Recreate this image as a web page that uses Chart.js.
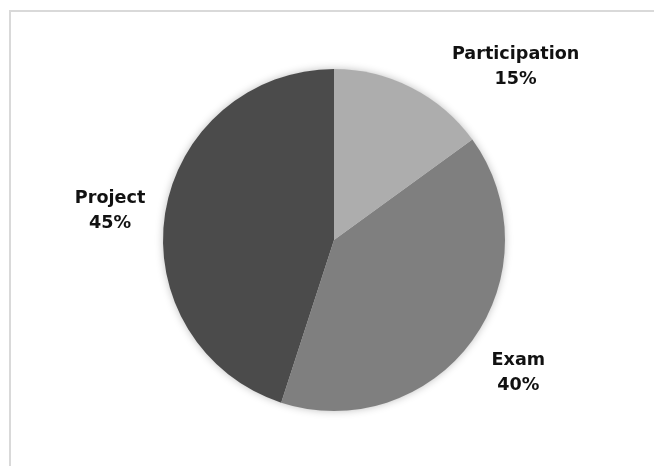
<!DOCTYPE html>
<html>
<head>
<meta charset="utf-8">
<script src="https://cdn.jsdelivr.net/npm/chart.js@4"></script>
<style>
  html, body { margin: 0; padding: 0; background: #fff; }
  #wrap { width: 654px; height: 466px; position: relative; }
</style>
</head>
<body>
<div id="wrap"><canvas id="pieChart"></canvas></div>
<script>
// --- DATA ---
const categories = ['Participation', 'Exam', 'Project'];
const shares = [15, 40, 45];
const sliceColors = ['#adadad', '#7f7f7f', '#4b4b4b'];

// label nudges from each slice's outer mid point (px)
const labelNudge = [[104, -21], [46, 32], [-55, -2]];

// --- PLUGINS ---
const frame = {
    id: 'frame',
    beforeDraw(chart) {
        const c = chart.ctx;
        c.save();
        c.fillStyle = '#fff';
        c.fillRect(0, 0, chart.width, chart.height);
        c.strokeStyle = '#d9d9d9';
        c.lineWidth = 2;
        c.strokeRect(10, 11, chart.width + 10, chart.height + 10);
        c.restore();
    }
};

const glow = {
    id: 'glow',
    beforeDatasetsDraw(chart) {
        const arc = chart.getDatasetMeta(0).data[0];
        if (!arc) return;
        const c = chart.ctx;
        c.save();
        c.shadowColor = 'rgba(0,0,0,0.28)';
        c.shadowBlur = 9;
        c.fillStyle = '#fff';
        c.beginPath();
        c.arc(arc.x, arc.y, arc.outerRadius - 0.5, 0, Math.PI * 2);
        c.fill();
        c.restore();
    }
};

const outsideLabels = {
    id: 'outsideLabels',
    afterDatasetsDraw(chart) {
        const c = chart.ctx;
        const meta = chart.getDatasetMeta(0);
        c.save();
        c.font = 'bold 17.6px "DejaVu Sans", "Open Sans", sans-serif';
        c.fillStyle = '#111';
        c.textAlign = 'center';
        c.textBaseline = 'middle';
        meta.data.forEach((arc, i) => {
            const mid = (arc.startAngle + arc.endAngle) / 2;
            const x = arc.x + Math.cos(mid) * arc.outerRadius + labelNudge[i][0];
            const y = arc.y + Math.sin(mid) * arc.outerRadius + labelNudge[i][1];
            c.fillText(categories[i], x, y - 12.5);
            c.fillText(shares[i] + '%', x, y + 12.5);
        });
        c.restore();
    }
};

// --- CHART SETUP ---
const ctx = document.getElementById('pieChart').getContext('2d');
const chart = new Chart(ctx, {
    type: 'pie',
    data: {
        labels: categories,
        datasets: [{
            data: shares,
            backgroundColor: sliceColors,
            borderWidth: 0
        }]
    },
    options: {
        responsive: true,
        maintainAspectRatio: false,
        animation: false,
        layout: { padding: { top: 69, bottom: 55, left: 14, right: 0 } },
        plugins: {
            legend: { display: false },
            tooltip: { enabled: false }
        }
    },
    plugins: [frame, glow, outsideLabels]
});
</script>
</body>
</html>
